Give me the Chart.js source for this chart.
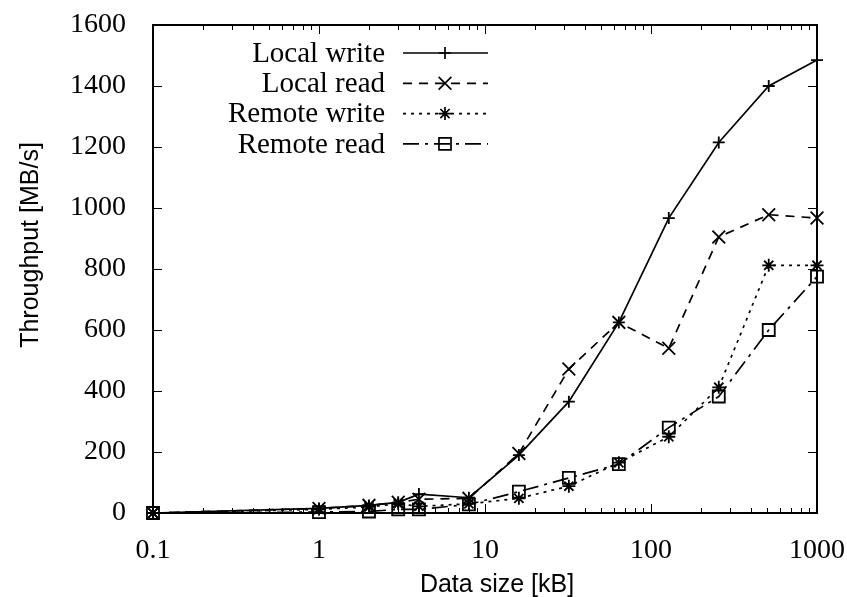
<!DOCTYPE html>
<html>
<head>
<meta charset="utf-8">
<script src="https://cdn.jsdelivr.net/npm/chart.js@4.4.1/dist/chart.umd.min.js"></script>
<style>
  html, body { margin: 0; background: #fff; }
  #wrap { width: 847px; height: 597px; }
</style>
</head>
<body>
<div id="wrap"><canvas id="myChart"></canvas></div>
<script>
// data sizes in kB
const sizes = [0.1, 1, 2, 3, 4, 8, 16, 32, 64, 128, 256, 512, 1000];
const localWrite = [0, 15, 25, 35, 62, 50, 190, 365, 625, 967, 1215, 1400, 1485];
const localRead = [0, 15, 25, 35, 45, 48, 195, 472, 625, 540, 905, 978, 967];
const remoteWrite = [0, 12, 20, 30, 22, 30, 48, 88, 165, 250, 412, 812, 812];
const remoteRead = [0, 3, 5, 12, 12, 28, 70, 115, 160, 280, 382, 600, 775];

const names = ["Local write", "Local read", "Remote write", "Remote read"];
const xTicks = [0.1, 1, 10, 100, 1000];
const yTicks = [0, 200, 400, 600, 800, 1000, 1200, 1400, 1600];

const serif = "'Liberation Serif', 'DejaVu Serif', serif";
const sans = "'Liberation Sans', Arial, sans-serif";

const styles = [
    { pointStyle: "cross", radius: 6, dash: [] },
    { pointStyle: "crossRot", radius: 9, dash: [9, 7] },
    { pointStyle: "star", radius: 6.5, dash: [3, 5] },
    { pointStyle: "rect", radius: 8.5, dash: [16, 6, 3, 6] },
];

const series = [localWrite, localRead, remoteWrite, remoteRead];

const datasets = series.map((vals, i) => ({
    label: names[i],
    data: sizes.map((s, j) => ({ x: s, y: vals[j] })),
    borderColor: "#000",
    backgroundColor: "rgba(0,0,0,0)",
    borderWidth: 1.7,
    borderDash: styles[i].dash,
    pointStyle: styles[i].pointStyle,
    pointRadius: styles[i].radius,
    pointBorderWidth: 1.8,
    pointBorderColor: "#000",
    pointBackgroundColor: "rgba(0,0,0,0)",
    tension: 0,
    clip: false,
}));

function marker(ctx, style, r, x, y) {
    ctx.beginPath();
    const d = Math.SQRT1_2 * r;
    if (style === "cross" || style === "star") {
        ctx.moveTo(x - r, y); ctx.lineTo(x + r, y);
        ctx.moveTo(x, y - r); ctx.lineTo(x, y + r);
    }
    if (style === "crossRot" || style === "star") {
        ctx.moveTo(x - d, y - d); ctx.lineTo(x + d, y + d);
        ctx.moveTo(x - d, y + d); ctx.lineTo(x + d, y - d);
    }
    if (style === "rect") {
        ctx.rect(x - d, y - d, 2 * d, 2 * d);
    }
    ctx.stroke();
}

// gnuplot-like frame: border, inward ticks, axis titles, key
const frame = {
    id: "frame",
    afterDraw(chart) {
        const ctx = chart.ctx;
        const a = chart.chartArea;
        const xs = chart.scales.x, ys = chart.scales.y;
        ctx.save();
        ctx.strokeStyle = "#000";
        ctx.setLineDash([]);

        ctx.lineWidth = 1;
        ctx.beginPath();
        yTicks.forEach(v => {
            const y = Math.round(ys.getPixelForValue(v)) + 0.5;
            ctx.moveTo(a.left, y); ctx.lineTo(a.left + 9, y);
            ctx.moveTo(a.right, y); ctx.lineTo(a.right - 9, y);
        });
        for (let e = -1; e < 3; e++) {
            for (let m = 1; m <= 10; m++) {
                const v = m * Math.pow(10, e);
                const len = (m === 1 || m === 10) ? 9 : 5;
                const x = Math.round(xs.getPixelForValue(v)) + 0.5;
                ctx.moveTo(x, a.bottom); ctx.lineTo(x, a.bottom - len);
                ctx.moveTo(x, a.top); ctx.lineTo(x, a.top + len);
            }
        }
        ctx.stroke();

        ctx.lineWidth = 2;
        ctx.strokeRect(a.left, a.top, a.right - a.left, a.bottom - a.top);

        ctx.fillStyle = "#000";
        ctx.font = "25px " + sans;
        ctx.textAlign = "center";
        ctx.textBaseline = "alphabetic";
        ctx.fillText("Data size [kB]", (a.left + a.right) / 2 + 12, 592);
        ctx.save();
        ctx.translate(38, 245);
        ctx.rotate(-Math.PI / 2);
        ctx.fillText("Throughput [MB/s]", 0, 0);
        ctx.restore();

        ctx.font = "29px " + serif;
        ctx.textAlign = "right";
        ctx.textBaseline = "middle";
        names.forEach((n, i) => {
            const y = 53 + i * 30.3;
            ctx.fillText(n, 385, y + 1);
            ctx.lineWidth = 1.7;
            ctx.setLineDash(styles[i].dash);
            ctx.beginPath();
            ctx.moveTo(403, y); ctx.lineTo(488, y);
            ctx.stroke();
            ctx.setLineDash([]);
            marker(ctx, styles[i].pointStyle, styles[i].radius, 445, y);
        });
        ctx.restore();
    },
};

const opt = {
    responsive: true,
    maintainAspectRatio: false,
    animation: false,
    layout: { padding: { top: 25, right: 30, left: 0, bottom: 0 } },
    plugins: { legend: { display: false }, tooltip: { enabled: false } },
    scales: {
        x: {
            type: "logarithmic",
            min: 0.1,
            max: 1000,
            afterBuildTicks: s => { s.ticks = xTicks.map(v => ({ value: v })); },
            afterFit: s => { s.height = 84; s.paddingLeft = 0; s.paddingRight = 0; },
            grid: { display: false },
            border: { display: false },
            ticks: {
                autoSkip: false,
                maxRotation: 0,
                padding: 13,
                color: "#000",
                font: { family: serif, size: 28 },
                callback: v => String(v),
            },
        },
        y: {
            min: 0,
            max: 1600,
            afterBuildTicks: s => { s.ticks = yTicks.map(v => ({ value: v })); },
            afterFit: s => { s.width = 153; s.paddingTop = 0; s.paddingBottom = 0; },
            grid: { display: false },
            border: { display: false },
            ticks: {
                padding: 19,
                color: "#000",
                font: { family: serif, size: 28 },
                callback: v => String(v),
            },
        },
    },
};

const ctx = document.getElementById("myChart");

new Chart(ctx, {
    type: "line",
    data: { datasets: datasets },
    options: opt,
    plugins: [frame],
});
</script>
</body>
</html>
